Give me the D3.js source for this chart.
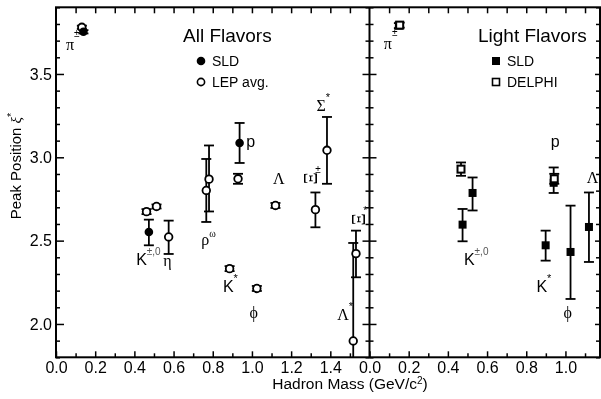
<!DOCTYPE html>
<html lang="en">
<head>
<meta charset="UTF-8">
<script src="https://cdn.jsdelivr.net/npm/d3@7"></script>
<style>
  body { margin: 0; background: #fff; }
  #chart { opacity: 0.999; will-change: transform; }
  svg text { font-family: "Liberation Sans", Arial, sans-serif; fill: #000; }
  svg .greek { font-family: "Liberation Serif", "DejaVu Serif", serif; }
</style>
</head>
<body>
<svg id="chart" width="601" height="399"></svg>
<script>
// hadron mass (GeV/c^2), peak position, lower / upper end of the error bar
const allSld = [
  { m: 0.140, v: 3.753, lo: 3.743, hi: 3.763 },
  { m: 0.474, v: 2.552, lo: 2.472, hi: 2.626 },
  { m: 0.937, v: 3.086, lo: 2.966, hi: 3.206 }
];
const allLep = [
  { m: 0.132, v: 3.780, lo: 3.770, hi: 3.790 },
  { m: 0.462, v: 2.674, lo: 2.659, hi: 2.689 },
  { m: 0.513, v: 2.705, lo: 2.693, hi: 2.717 },
  { m: 0.575, v: 2.522, lo: 2.420, hi: 2.620 },
  { m: 0.767, v: 2.801, lo: 2.612, hi: 2.990 },
  { m: 0.781, v: 2.869, lo: 2.675, hi: 3.071 },
  { m: 0.886, v: 2.332, lo: 2.317, hi: 2.347 },
  { m: 0.929, v: 2.871, lo: 2.841, hi: 2.901 },
  { m: 1.025, v: 2.213, lo: 2.198, hi: 2.228 },
  { m: 1.120, v: 2.711, lo: 2.696, hi: 2.726 },
  { m: 1.324, v: 2.686, lo: 2.580, hi: 2.789 },
  { m: 1.383, v: 3.042, lo: 2.841, hi: 3.242 },
  { m: 1.531, v: 2.422, lo: 2.280, hi: 2.560 },
  { m: 1.517, v: 1.898, lo: 1.600, hi: 2.486 }
];
const lightSld = [
  { m: 0.150, v: 3.790, lo: 3.775, hi: 3.805 },
  { m: 0.475, v: 2.596, lo: 2.496, hi: 2.690 },
  { m: 0.526, v: 2.786, lo: 2.681, hi: 2.879 },
  { m: 0.899, v: 2.472, lo: 2.380, hi: 2.560 },
  { m: 0.940, v: 2.847, lo: 2.786, hi: 2.939 },
  { m: 1.026, v: 2.432, lo: 2.150, hi: 2.710 },
  { m: 1.120, v: 2.582, lo: 2.372, hi: 2.789 }
];
const lightDelphi = [
  { m: 0.154, v: 3.793, lo: 3.778, hi: 3.808 },
  { m: 0.467, v: 2.929, lo: 2.889, hi: 2.969 },
  { m: 0.943, v: 2.871, lo: 2.841, hi: 2.901 }
];

// particle names, anchored in data units (m, v)
const allLabels = [
  { t: "π", sup: "±", m: 0.051, v: 3.641, greek: true },
  { t: "K", sup: "±,0", m: 0.409, v: 2.353 },
  { t: "η", m: 0.547, v: 2.345, greek: true },
  { t: "ρ", sup: "ω", m: 0.741, v: 2.473, greek: true },
  { t: "p", m: 0.971, v: 3.062 },
  { t: "K", sup: "*", m: 0.852, v: 2.193 },
  { t: "ϕ", m: 0.987, v: 2.036, greek: true },
  { t: "Λ", m: 1.108, v: 2.838, greek: true },
  { t: "Ξ", sup: "±", m: 1.298, v: 2.874, greek: true, rot: true },
  { t: "Σ", sup: "*", m: 1.329, v: 3.277, greek: true },
  { t: "Ξ", sup: "*", m: 1.543, v: 2.627, greek: true, rot: true },
  { t: "Λ", sup: "*", m: 1.435, v: 2.024, greek: true }
];
const lightLabels = [
  { t: "π", sup: "±", m: 0.073, v: 3.647, greek: true },
  { t: "K", sup: "±,0", m: 0.482, v: 2.353 },
  { t: "p", m: 0.925, v: 3.062 },
  { t: "K", sup: "*", m: 0.852, v: 2.193 },
  { t: "ϕ", m: 0.990, v: 2.036, greek: true },
  { t: "Λ", m: 1.109, v: 2.843, greek: true }
];

const yTicks = [2.0, 2.5, 3.0, 3.5];
const xTicksLeft = [0.0, 0.2, 0.4, 0.6, 0.8, 1.0, 1.2, 1.4];
const xTicksRight = [0.0, 0.2, 0.4, 0.6, 0.8, 1.0];

const svg = d3.select('#chart');
const x1 = d3.scaleLinear([0, 1.6], [56, 369.5]);
const x2 = d3.scaleLinear([0, 1.6], [369.5, 683]);
const y = d3.scaleLinear([1.8, 3.9], [357.3, 7.3]);
const yTop = y(3.9), yBot = y(1.8), rightEdge = 600;

const yMinor = d3.range(18, 40).map(d => d / 10).filter(d => !yTicks.includes(d));
const tenths = n => d3.range(0, n).map(d => d / 10);

function cleanAxis (g) {
  g.select('.domain').remove();
  g.selectAll('line').attr('stroke', '#000').attr('stroke-width', 1.5);
  g.selectAll('text').style('font-size', '16px').attr('fill', '#000');
}

function drawAxes (x, xMax, labels) {
  let minorX = tenths(Math.round(xMax * 10) + 1).filter(d => Math.round(d * 10) % 2 == 1);
  // bottom
  svg.append('g').attr('transform', `translate(0,${yBot})`)
    .call(d3.axisBottom(x).tickValues(labels).tickSize(-6).tickPadding(4).tickFormat(d3.format('.1f')))
    .call(cleanAxis);
  svg.append('g').attr('transform', `translate(0,${yBot})`)
    .call(d3.axisBottom(x).tickValues(minorX).tickSize(-4).tickFormat(''))
    .call(cleanAxis);
  // top
  svg.append('g').attr('transform', `translate(0,${yTop})`)
    .call(d3.axisTop(x).tickValues(tenths(Math.round(xMax * 10) + 1).slice(1)).tickSize(-6).tickFormat(''))
    .call(cleanAxis);
}

function yAxis (xPos, dir, size, minorSize, withLabels) {
  let ax = dir == 'left' ? d3.axisLeft : d3.axisRight;
  svg.append('g').attr('transform', `translate(${xPos},0)`)
    .call(ax(y).tickValues(yTicks).tickSize(-size).tickPadding(4)
      .tickFormat(withLabels ? d3.format('.1f') : ''))
    .call(cleanAxis);
  svg.append('g').attr('transform', `translate(${xPos},0)`)
    .call(ax(y).tickValues(yMinor).tickSize(-minorSize).tickFormat(''))
    .call(cleanAxis);
}

drawAxes(x1, 1.5, xTicksLeft);
drawAxes(x2, 1.1, xTicksRight);
yAxis(x1(0), 'left', 8, 4, true);
yAxis(x1(1.6), 'right', 7, 4, false);
yAxis(x2(0), 'left', 7, 4, false);
yAxis(rightEdge, 'right', 5, 4, false);

// frames
svg.append('rect')
  .attr('x', x1(0)).attr('y', yTop)
  .attr('width', rightEdge - x1(0)).attr('height', yBot - yTop)
  .attr('fill', 'none').attr('stroke', '#000').attr('stroke-width', 2);
svg.append('line')
  .attr('x1', x2(0)).attr('x2', x2(0)).attr('y1', yTop).attr('y2', yBot)
  .attr('stroke', '#000').attr('stroke-width', 2);

function drawErrors (data, x) {
  let g = svg.append('g').attr('stroke', '#000').attr('stroke-width', 1.8);
  data.forEach(d => {
    let lo = Math.max(d.lo, 1.8);
    g.append('line').attr('x1', x(d.m)).attr('x2', x(d.m)).attr('y1', y(d.hi)).attr('y2', y(lo));
    g.append('line').attr('x1', x(d.m) - 5).attr('x2', x(d.m) + 5).attr('y1', y(d.hi)).attr('y2', y(d.hi));
    if (d.lo >= 1.8) {
      g.append('line').attr('x1', x(d.m) - 5).attr('x2', x(d.m) + 5).attr('y1', y(d.lo)).attr('y2', y(d.lo));
    }
  });
}

function drawCircles (data, x, filled) {
  svg.append('g').selectAll('circle').data(data).enter().append('circle')
    .attr('cx', d => x(d.m)).attr('cy', d => y(d.v))
    .attr('r', filled ? 4.3 : 3.8)
    .attr('fill', filled ? '#000' : '#fff')
    .attr('stroke', '#000').attr('stroke-width', filled ? 0 : 1.8);
}

function drawSquares (data, x, filled) {
  let s = filled ? 8 : 7;
  svg.append('g').selectAll('rect').data(data).enter().append('rect')
    .attr('x', d => x(d.m) - s / 2).attr('y', d => y(d.v) - s / 2)
    .attr('width', s).attr('height', s)
    .attr('fill', filled ? '#000' : '#fff')
    .attr('stroke', '#000').attr('stroke-width', filled ? 0 : 2);
}

drawErrors(allLep, x1);
drawErrors(allSld, x1);
drawCircles(allLep, x1, false);
drawCircles(allSld, x1, true);

drawErrors(lightSld, x2);
drawErrors(lightDelphi, x2);
drawSquares(lightSld, x2, true);
drawSquares(lightDelphi, x2, false);

function drawLabels (labels, x) {
  labels.forEach(l => {
    let px = x(l.m), py = y(l.v);
    if (l.rot) {
      svg.append('text').attr('class', 'greek').attr('fill', '#000')
        .attr('transform', `translate(${px},${py}) rotate(-90)`)
        .attr('text-anchor', 'middle').attr('dy', '0.35em')
        .style('font-size', '19px').text(l.t);
      svg.append('text').attr('x', px + 5).attr('y', py - 5).attr('fill', '#000')
        .style('font-size', '10px').text(l.sup);
      return;
    }
    let t = svg.append('text').attr('x', px).attr('y', py).attr('fill', '#000')
      .style('font-size', '16px');
    if (l.greek) t.attr('class', 'greek');
    t.append('tspan').text(l.t);
    if (l.sup) {
      let supDy = l.t == 'π' ? -13 : (l.t == 'ρ' ? -8 : -10);
      t.append('tspan').attr('dy', supDy)
        .attr('fill', l.sup == '±,0' ? '#555' : '#000')
        .style('font-size', l.sup == '*' ? '11px' : '10px')
        .style('font-family', l.sup == 'ω' ? null : '"Liberation Sans", Arial, sans-serif')
        .text(l.sup);
    }
  });
}
drawLabels(allLabels, x1);
drawLabels(lightLabels, x2);

// legends
function legend (x0, title, items) {
  svg.append('text').attr('x', x0 - 18).attr('y', 41.7).attr('fill', '#000')
    .style('font-size', '19px').text(title);
  items.forEach((it, i) => {
    let cy = 61 + i * 21;
    if (it.shape == 'circle') {
      svg.append('circle').attr('cx', x0).attr('cy', cy).attr('r', it.filled ? 4.3 : 3.6)
        .attr('fill', it.filled ? '#000' : '#fff').attr('stroke', '#000')
        .attr('stroke-width', it.filled ? 0 : 1.6);
    } else {
      let s = it.filled ? 8 : 7;
      svg.append('rect').attr('x', x0 - s / 2).attr('y', cy - s / 2).attr('width', s).attr('height', s)
        .attr('fill', it.filled ? '#000' : '#fff').attr('stroke', '#000')
        .attr('stroke-width', it.filled ? 0 : 1.6);
    }
    svg.append('text').attr('x', x0 + 11).attr('y', cy + 5).attr('fill', '#000')
      .style('font-size', '14px').text(it.name);
  });
}
legend(201, 'All Flavors', [
  { name: 'SLD', shape: 'circle', filled: true },
  { name: 'LEP avg.', shape: 'circle', filled: false }
]);
legend(496, 'Light Flavors', [
  { name: 'SLD', shape: 'square', filled: true },
  { name: 'DELPHI', shape: 'square', filled: false }
]);

// axis titles
let xt = svg.append('text').attr('x', 350).attr('y', 389).attr('fill', '#000')
  .attr('text-anchor', 'middle').style('font-size', '15.5px');
xt.append('tspan').text('Hadron Mass (GeV/c');
xt.append('tspan').attr('dy', -5).style('font-size', '10px').text('2');
xt.append('tspan').attr('dy', 5).text(')');

let yt = svg.append('text').attr('transform', 'translate(21,166) rotate(-90)').attr('fill', '#000')
  .attr('text-anchor', 'middle').style('font-size', '15px');
yt.append('tspan').text('Peak Position ');
yt.append('tspan').attr('class', 'greek').style('font-style', 'italic').text('ξ');
yt.append('tspan').attr('dy', -6).style('font-size', '11px').text('*');
</script>
</body>
</html>
